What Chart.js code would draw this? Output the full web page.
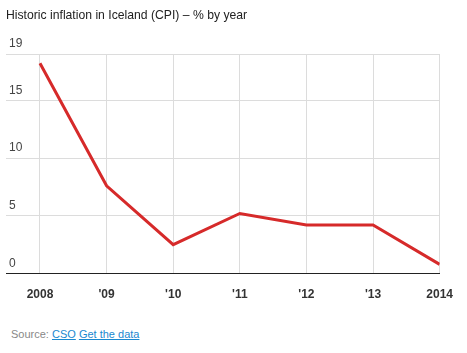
<!DOCTYPE html>
<html>
<head>
<meta charset="utf-8">
<script src="https://cdn.jsdelivr.net/npm/chart.js@4"></script>
<style>
  body { margin: 0; background: #fff; font-family: "Liberation Sans", Arial, sans-serif; }
  #wrap { position: relative; width: 467px; height: 353px; }
  #title { position: absolute; left: 6px; top: 8px; font-size: 12.2px; color: #222; }
  #chartBox { position: absolute; left: 0; top: 0; width: 467px; height: 324px; }
  #source { position: absolute; left: 11px; top: 328px; font-size: 11px; color: #888; }
  #source a { color: #1a88d0; text-decoration: underline; }
</style>
</head>
<body>
<div id="wrap">
  <div id="chartBox"><canvas id="inflationChart"></canvas></div>
  <div id="title">Historic inflation in Iceland (CPI) – % by year</div>
  <div id="source">Source: <a href="#">CSO</a> <a href="#">Get the data</a></div>
</div>
<script>
const years = [2008, 2009, 2010, 2011, 2012, 2013, 2014];
const yearLabels = ["2008", "'09", "'10", "'11", "'12", "'13", "2014"];
const inflation = [18.2, 7.6, 2.5, 5.2, 4.2, 4.2, 0.8];
const yTicks = [0, 5, 10, 15, 19];

function drawChart(){
  const ctx = document.getElementById("inflationChart").getContext("2d");
  new Chart(ctx, {
    type: "line",
    data: {
      datasets: [{
        label: "Inflation",
        data: years.map((y, i) => ({ x: y, y: inflation[i] })),
        borderColor: "#d62a2a",
        borderWidth: 3,
        pointRadius: 0,
        tension: 0,
        fill: false
      }]
    },
    options: {
      responsive: true,
      maintainAspectRatio: false,
      animation: false,
      layout: { padding: { left: 0, right: 22, top: 54, bottom: 8 } },
      plugins: {
        legend: { display: false },
        tooltip: { enabled: false }
      },
      scales: {
        x: {
          type: "linear",
          min: 2007.49,
          max: 2014,
          afterBuildTicks: axis => { axis.ticks = years.map(v => ({ value: v })); },
          grid: { color: "#dcdcdc", drawTicks: false },
          border: { display: true, color: "#222", width: 1 },
          ticks: {
            padding: 14,
            color: "#333",
            font: { family: "Liberation Sans", size: 12, weight: "bold" },
            callback: (v) => yearLabels[years.indexOf(v)]
          }
        },
        y: {
          min: 0,
          max: 19,
          afterBuildTicks: axis => { axis.ticks = yTicks.map(v => ({ value: v })); },
          grid: { color: "#dcdcdc", drawTicks: false },
          border: { display: false },
          ticks: {
            mirror: true,
            padding: 3,
            labelOffset: -10,
            color: "#444",
            font: { family: "Liberation Sans", size: 12 }
          }
        }
      }
    }
  });
}

document.addEventListener("DOMContentLoaded", drawChart);
</script>
</body>
</html>
